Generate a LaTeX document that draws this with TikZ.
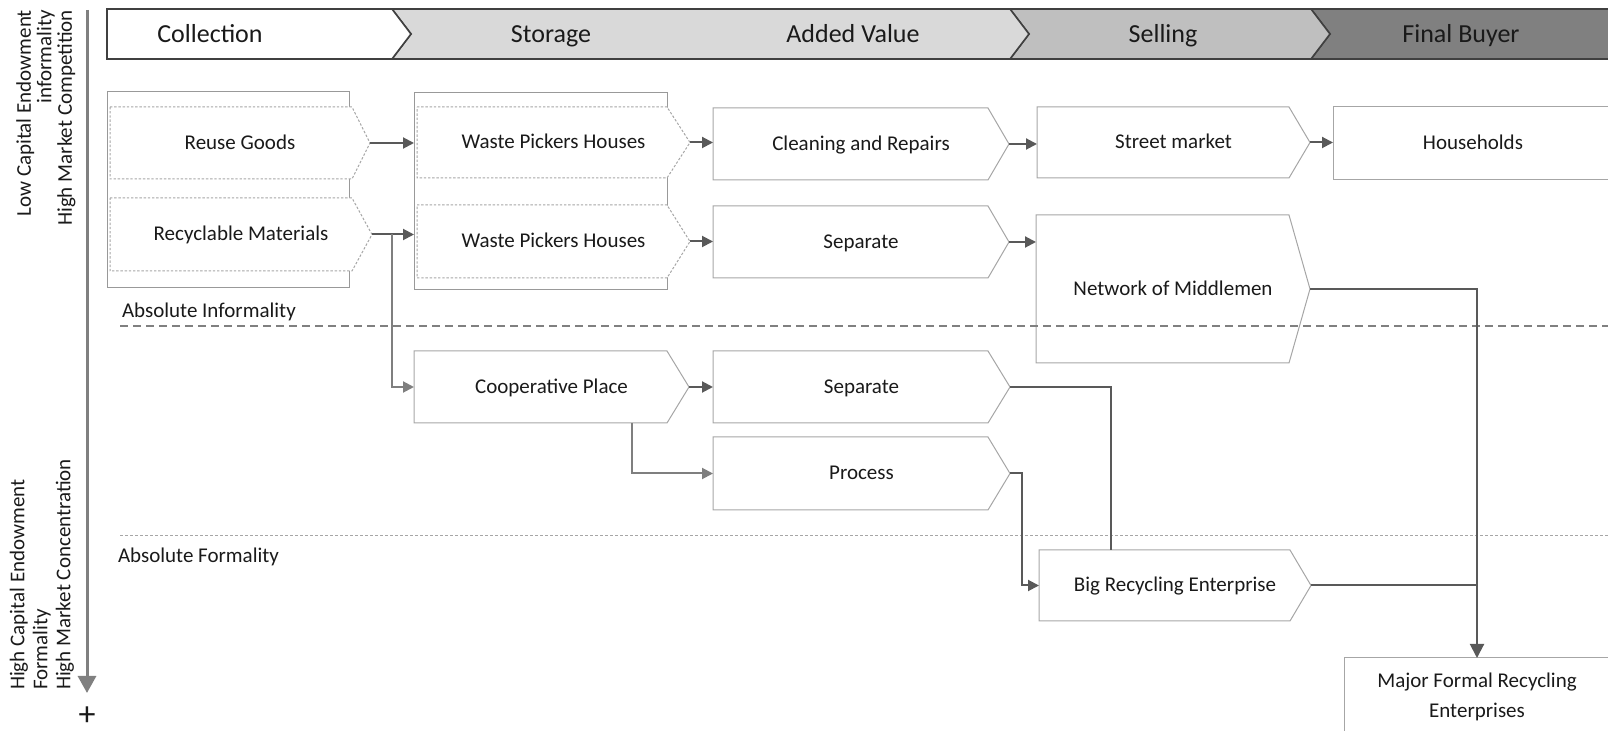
\documentclass[tikz,border=0pt]{standalone}
\usepackage{fontspec}
\setmainfont{Carlito}
\usetikzlibrary{arrows.meta,fit,calc}

\definecolor{ink}{HTML}{1A1A1A}
\definecolor{boxedge}{HTML}{A6A6A6}
\definecolor{grpedge}{HTML}{999999}
\definecolor{wire}{HTML}{595959}
\definecolor{wirelight}{HTML}{7F7F7F}
\definecolor{band}{HTML}{404040}
\definecolor{tintA}{HTML}{D9D9D9}
\definecolor{tintB}{HTML}{BFBFBF}
\definecolor{tintC}{HTML}{808080}

\tikzset{
  lbl/.style={inner sep=0pt, outer sep=0pt, text=ink, align=center,
    font=\fontsize{10.5pt}{15pt}\selectfont},
  boxtext/.style={text height=7.5pt, text depth=1pt},
  frame/.style={inner sep=0pt, outer sep=0pt},
  hdr/.style={inner sep=0pt, outer sep=0pt, text=ink, anchor=base,
    font=\fontsize{13pt}{15pt}\selectfont},
  bandshape/.style={draw=band, line width=0.8pt, line join=miter},
  solidbox/.style={draw=boxedge, line width=0.5pt, fill=white},
  dashbox/.style={draw=boxedge, line width=0.5pt, fill=white, dash pattern=on 1.2pt off 0.9pt},
  grpbox/.style={draw=grpedge, line width=0.5pt, inner sep=0pt, outer sep=0pt},
  conn/.style={draw=wire, line width=1pt},
  connlight/.style={draw=wirelight, line width=1pt},
  arrowed/.style={-{Triangle[length=5.5pt,width=5.5pt]}},
  bigarrow/.style={-{Triangle[length=7pt,width=7pt]}},
  sidebar/.style={draw=tintC, line width=1.5pt, -{Triangle[length=8.5pt,width=9pt]}},
  bandsep/.style={draw=tintC, line width=0.75pt, dash pattern=on 4pt off 2.5pt},
  finesep/.style={draw=boxedge, line width=0.5pt, dash pattern=on 1.5pt off 1pt},
}

% pentagon box: style, name, left, top, shoulder x, tip x, bottom, label
\newcommand\pentbox[8]{%
  \path[#1] (#3,#4) -- (#5,#4) -- (#6,{(#4+#7)/2}) -- (#5,#7) -- (#3,#7) -- cycle;
  \node[frame, fit={(#3,#4) (#6,#7)}] (#2) {};
  \node[lbl, boxtext] (#2-t) at (#2.center) {#8};
}

\begin{document}
\begin{tikzpicture}[x=0.5pt,y=-0.5pt]
\path[use as bounding box] (0,0) rectangle (1608,731);
\clip (0,0) rectangle (1608,731);

% stage band
\path[bandshape, fill=tintC] (1311,9) -- (1620,9) -- (1620,59) -- (1311,59) -- (1330,34) -- cycle;
\path[bandshape, fill=tintB] (1010,9) -- (1311,9) -- (1330,34) -- (1311,59) -- (1010,59) -- (1029,34) -- cycle;
\path[bandshape, fill=tintA] (392,9) -- (1010,9) -- (1029,34) -- (1010,59) -- (392,59) -- (411,34) -- cycle;
\path[bandshape, fill=white] (107,9) -- (392,9) -- (411,34) -- (392,59) -- (107,59) -- cycle;
\node[hdr] (hcol) at (210,42.5) {Collection};
\node[hdr] (hsto) at (551,42.5) {Storage};
\node[hdr] (hadd) at (853,42.5) {Added Value};
\node[hdr] (hsel) at (1163,42.5) {Selling};
\node[hdr] (hfin) at (1461,42.5) {Final Buyer};

% side scale
\coordinate (axtop) at (87,10);
\coordinate (axbot) at (87,693);
\draw[sidebar] (axtop) -- (axbot);
\node[lbl, font=\fontsize{17pt}{18pt}\selectfont] (plus) at (87,716) {+};
\node[lbl, rotate=90, anchor=east, align=right, font=\fontsize{10.5pt}{10.25pt}\selectfont]
  (lowcap) at (46,10) {Low Capital Endowment\\informality\\High Market Competition};
\node[lbl, rotate=90, anchor=west, align=left, font=\fontsize{10.5pt}{11.5pt}\selectfont]
  (highcap) at (42,690) {High Capital Endowment\\Formality\\High Market Concentration};

% collection group
\node[grpbox, fit={(107,92) (349,288)}] (gcol) {};
\pentbox{dashbox}{reuse}{110}{107}{352}{370}{179}{Reuse Goods}
\pentbox{dashbox}{recyc}{110}{198}{352}{372}{271}{Recyclable Materials}

% storage group
\node[grpbox, fit={(414,93) (667,290)}] (gsto) {};
\pentbox{dashbox}{wph1}{417}{107}{667}{690}{178}{Waste Pickers Houses}
\pentbox{dashbox}{wph2}{417}{205}{667}{690}{278}{Waste Pickers Houses}

% informal chain
\pentbox{solidbox}{clean}{713}{108}{988}{1009}{180}{Cleaning and Repairs}
\pentbox{solidbox}{sepa}{713}{206}{988}{1009}{278}{Separate}
\pentbox{solidbox}{street}{1037}{107}{1289}{1310}{178}{Street market}
\node[frame, draw=boxedge, line width=0.5pt, fit={(1333,107) (1614,180)}] (house) {};
\node[lbl, boxtext] (house-t) at (1473,143.5) {Households};
\pentbox{solidbox}{net}{1036}{215}{1289}{1310}{363}{Network of Middlemen}

% cooperative chain
\pentbox{solidbox}{coop}{414}{351}{667}{689}{423}{Cooperative Place}
\pentbox{solidbox}{sepb}{713}{351}{988}{1010}{423}{Separate}
\pentbox{solidbox}{proc}{713}{437}{988}{1010}{510}{Process}
\pentbox{solidbox}{big}{1039}{550}{1290}{1311}{621}{Big Recycling Enterprise}
\node[frame, draw=boxedge, line width=0.5pt, fit={(1344,658) (1610,733)}] (major) {};
\node[lbl] (major-t) at (1477,697) {Major Formal Recycling\\Enterprises};

% formality thresholds
\coordinate (infL) at (120,326); \coordinate (infR) at (1608,326);
\coordinate (forL) at (120,536); \coordinate (forR) at (1608,536);
\draw[bandsep] (infL) -- (infR);
\draw[finesep] (forL) -- (forR);
\node[lbl, anchor=west] (absinf) at (122,312) {Absolute Informality};
\node[lbl, anchor=west] (absfor) at (118,557) {Absolute Formality};

% flows
\draw[conn, arrowed] (reuse.east) -- (reuse.east -| gsto.west);
\draw[conn, arrowed] (recyc.east) -- (recyc.east -| gsto.west);
\path (recyc.east) ++(20,0) coordinate (split);
\draw[connlight, arrowed] (split) |- (coop.west);
\draw[conn, arrowed] (wph1.east) -- (wph1.east -| clean.west);
\draw[conn, arrowed] (wph2.east) -- (wph2.east -| sepa.west);
\draw[conn, arrowed] (clean.east) -- (clean.east -| street.west);
\draw[conn, arrowed] (sepa.east) -- (sepa.east -| net.west);
\draw[conn, arrowed] (street.east) -- (street.east -| house.west);
\draw[conn, arrowed] (coop.east) -- (coop.east -| sepb.west);
\path (coop.south west) ++(218,0) coordinate (drop);
\draw[connlight, arrowed] (drop) |- (proc.west);
\path (big.north west) ++(72,0) coordinate (bigtop);
\draw[conn] (sepb.east) -| (bigtop);
\draw[conn, arrowed] (proc.east) -- ++(12,0) |- (big.west);
\draw[conn, bigarrow] (net.east) -| (major.north);
\draw[conn] (big.east) -- (big.east -| major.north);
\end{tikzpicture}
\end{document}
